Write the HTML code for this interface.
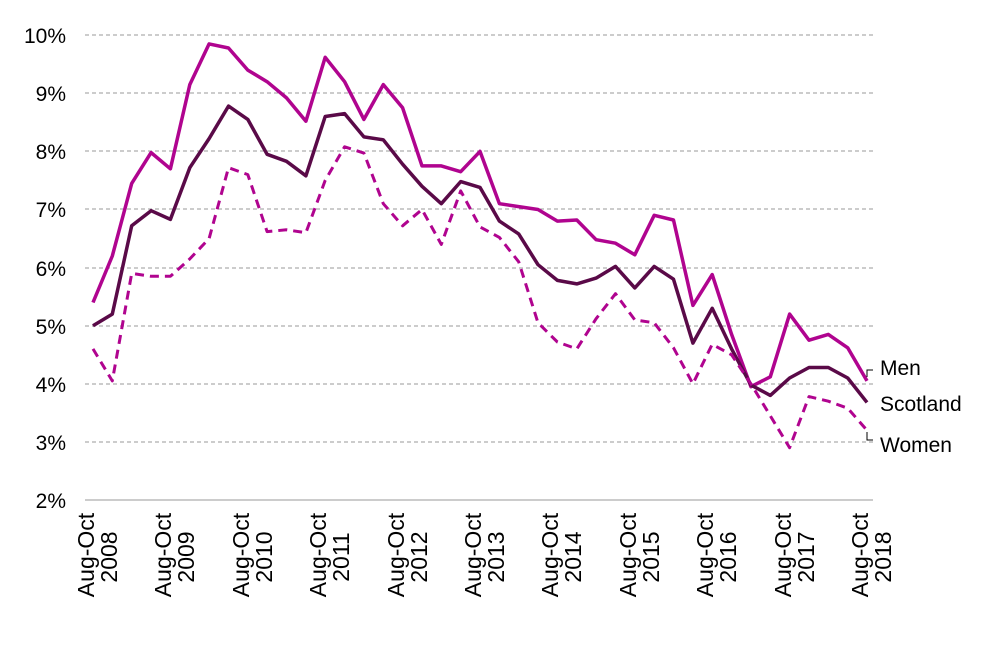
<!DOCTYPE html>
<html><head><meta charset="utf-8"><style>body{margin:0;background:#fff}svg{display:block}text{font-family:"Liberation Sans",Arial,sans-serif;fill:#000}</style></head>
<body>
<svg width="999" height="649" viewBox="0 0 999 649" xmlns="http://www.w3.org/2000/svg">
<g stroke="#999" stroke-width="1" stroke-dasharray="4,3">
<line x1="85" x2="873" y1="35" y2="35"/><line x1="85" x2="873" y1="93" y2="93"/><line x1="85" x2="873" y1="151" y2="151"/><line x1="85" x2="873" y1="209" y2="209"/><line x1="85" x2="873" y1="268" y2="268"/><line x1="85" x2="873" y1="326" y2="326"/><line x1="85" x2="873" y1="384" y2="384"/><line x1="85" x2="873" y1="442" y2="442"/>
</g>
<line x1="85" x2="873" y1="500" y2="500" stroke="#999"/>
<g font-size="21" text-anchor="end">
<text x="66" y="43">10%</text><text x="66" y="101">9%</text><text x="66" y="159">8%</text><text x="66" y="217">7%</text><text x="66" y="276">6%</text><text x="66" y="334">5%</text><text x="66" y="392">4%</text><text x="66" y="450">3%</text><text x="66" y="508">2%</text>
</g>
<g font-size="23" text-anchor="middle">
<text transform="translate(94,555) rotate(-90)">Aug-Oct</text><text transform="translate(117,557) rotate(-90)">2008</text>
<text transform="translate(171,555) rotate(-90)">Aug-Oct</text><text transform="translate(194,557) rotate(-90)">2009</text>
<text transform="translate(249,555) rotate(-90)">Aug-Oct</text><text transform="translate(272,557) rotate(-90)">2010</text>
<text transform="translate(326,555) rotate(-90)">Aug-Oct</text><text transform="translate(349,557) rotate(-90)">2011</text>
<text transform="translate(404,555) rotate(-90)">Aug-Oct</text><text transform="translate(427,557) rotate(-90)">2012</text>
<text transform="translate(481,555) rotate(-90)">Aug-Oct</text><text transform="translate(504,557) rotate(-90)">2013</text>
<text transform="translate(558,555) rotate(-90)">Aug-Oct</text><text transform="translate(581,557) rotate(-90)">2014</text>
<text transform="translate(636,555) rotate(-90)">Aug-Oct</text><text transform="translate(659,557) rotate(-90)">2015</text>
<text transform="translate(713,555) rotate(-90)">Aug-Oct</text><text transform="translate(736,557) rotate(-90)">2016</text>
<text transform="translate(791,555) rotate(-90)">Aug-Oct</text><text transform="translate(814,557) rotate(-90)">2017</text>
<text transform="translate(868,555) rotate(-90)">Aug-Oct</text><text transform="translate(891,557) rotate(-90)">2018</text>
</g>
<polyline id="men" fill="none" stroke="#b0048f" stroke-width="3.5" stroke-linejoin="round"/>
<polyline id="sco" fill="none" stroke="#5a0a48" stroke-width="3.5" stroke-linejoin="round"/>
<polyline id="wom" fill="none" stroke="#b0048f" stroke-width="3" stroke-dasharray="9,6" stroke-linejoin="round"/>
<polyline points="867,377 867,370 873,370" fill="none" stroke="#000" stroke-width="1"/>
<polyline points="867,432 867,440 873,440" fill="none" stroke="#000" stroke-width="1"/>
<g font-size="21"><text x="880" y="375">Men</text><text x="880" y="411">Scotland</text><text x="880" y="452">Women</text></g>
<script>
var men=[5.4,6.2,7.45,7.98,7.7,9.15,9.85,9.78,9.4,9.2,8.92,8.52,9.62,9.2,8.55,9.15,8.75,7.75,7.75,7.65,8.0,7.1,7.05,7.0,6.8,6.82,6.48,6.42,6.22,6.9,6.82,5.35,5.88,4.85,3.95,4.12,5.2,4.75,4.85,4.62,4.05];
var sco=[5.0,5.2,6.72,6.98,6.83,7.72,8.22,8.78,8.55,7.95,7.83,7.58,8.6,8.65,8.25,8.2,7.78,7.4,7.1,7.48,7.38,6.8,6.58,6.05,5.78,5.72,5.82,6.02,5.65,6.02,5.8,4.7,5.3,4.6,3.98,3.8,4.1,4.28,4.28,4.1,3.68];
var wom=[4.6,4.05,5.9,5.85,5.85,6.15,6.5,7.72,7.6,6.62,6.65,6.6,7.5,8.08,7.97,7.1,6.72,7.0,6.4,7.32,6.7,6.52,6.1,5.05,4.72,4.6,5.12,5.55,5.1,5.05,4.62,4.0,4.68,4.5,4.0,3.45,2.9,3.78,3.7,3.58,3.2];
function pts(a){return a.map(function(v,i){return (93+19.35*i).toFixed(1)+","+(500-(v-2)*58.1).toFixed(1)}).join(" ")}
document.getElementById("men").setAttribute("points",pts(men));
document.getElementById("sco").setAttribute("points",pts(sco));
document.getElementById("wom").setAttribute("points",pts(wom));
</script>
</svg>
</body></html>
